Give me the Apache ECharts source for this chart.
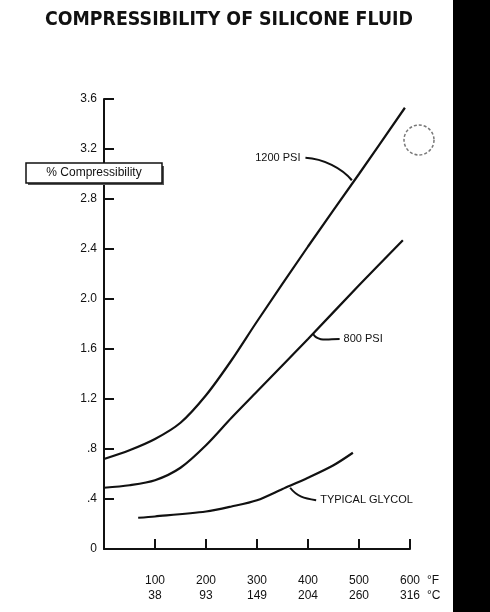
<!DOCTYPE html>
<html><head><meta charset="utf-8">
<script src="https://cdn.jsdelivr.net/npm/echarts@6/dist/echarts.min.js"></script>
<style>html,body{margin:0;padding:0;background:#fff}#c{width:490px;height:612px}</style>
</head><body><div id="c"></div>
<script>
// ---- data ----
const titleText = 'COMPRESSIBILITY OF SILICONE FLUID';
const yAxisName = '% Compressibility';
const fTicks = [0, 100, 200, 300, 400, 500, 600];
const cTicks = ['', '38', '93', '149', '204', '260', '316'];
const yTickLabels = {0:'0', 0.4:'.4', 0.8:'.8', 1.2:'1.2', 1.6:'1.6', 2:'2.0', 2.4:'2.4', 2.8:'2.8', 3.2:'3.2', 3.6:'3.6'};

const t1200 = [0, 50, 100, 150, 200, 250, 300, 400, 500, 590];
const v1200 = [0.72, 0.79, 0.88, 1.01, 1.23, 1.51, 1.82, 2.42, 3.00, 3.53];
const t800  = [0, 50, 100, 150, 200, 250, 300, 400, 500, 586];
const v800  = [0.49, 0.51, 0.55, 0.65, 0.83, 1.05, 1.26, 1.68, 2.11, 2.47];
const tGly  = [67, 100, 200, 250, 300, 350, 400, 450, 488];
const vGly  = [0.25, 0.26, 0.30, 0.34, 0.39, 0.48, 0.57, 0.67, 0.77];

const seriesNames = ['1200 PSI', '800 PSI', 'TYPICAL GLYCOL'];

const pair = (xs, ys) => xs.map((x, i) => [x, ys[i]]);
const INK = '#111';
const FONT = "'Liberation Sans', Arial, sans-serif";

const chart = echarts.init(document.getElementById('c'), null, {renderer: 'canvas'});
chart.setOption({
  backgroundColor: '#fff',
  animation: false,
  grid: {left: 104, right: 80, top: 99, bottom: 63, containLabel: false, outerBoundsMode: 'none'},
  xAxis: {
    type: 'value', min: 0, max: 600, interval: 100,
    axisLine: {lineStyle: {color: INK, width: 2}},
    axisTick: {inside: true, length: 10, lineStyle: {color: INK, width: 2}},
    splitLine: {show: false},
    axisLabel: {
      margin: 24, color: INK, fontFamily: FONT, fontSize: 12, lineHeight: 15,
      formatter: v => { const i = fTicks.indexOf(v); return i > 0 ? fTicks[i] + '\n' + cTicks[i] : ''; }
    }
  },
  yAxis: {
    type: 'value', min: 0, max: 3.6, interval: 0.4,
    axisLine: {lineStyle: {color: INK, width: 2}},
    axisTick: {inside: true, length: 10, lineStyle: {color: INK, width: 2}},
    splitLine: {show: false},
    axisLabel: {
      margin: 7, color: INK, fontFamily: FONT, fontSize: 12,
      formatter: v => { const k = Math.round(v * 10) / 10; return yTickLabels[k] !== undefined ? yTickLabels[k] : ''; }
    }
  },
  series: [
    {name: seriesNames[0], type: 'line', data: pair(t1200, v1200), smooth: 0.3, showSymbol: false,
     lineStyle: {color: INK, width: 2.2}},
    {name: seriesNames[1], type: 'line', data: pair(t800, v800), smooth: 0.3, showSymbol: false,
     lineStyle: {color: INK, width: 2.2}},
    {name: seriesNames[2], type: 'line', data: pair(tGly, vGly), smooth: 0.3, showSymbol: false,
     lineStyle: {color: INK, width: 2.2}}
  ]
});

const P = d => chart.convertToPixel({gridIndex: 0}, d);
const g = [];
// title
g.push({type: 'text', x: 229, y: 11, scaleX: 0.915, style: {text: titleText, fill: INK, align: 'center',
  font: "bold 19px 'DejaVu Sans', 'Liberation Sans', sans-serif"}, z: 10});
// y axis name box
const yb = P([0, 3.0]);
g.push({type: 'rect', shape: {x: yb[0] - 76, y: yb[1] - 8, width: 136, height: 19}, style: {fill: '#555'}, z: 9});
g.push({type: 'rect', shape: {x: yb[0] - 78, y: yb[1] - 11, width: 136, height: 20}, style: {fill: '#fff', stroke: INK, lineWidth: 1.5}, z: 10});
g.push({type: 'text', x: yb[0] - 10, y: yb[1] - 1, style: {text: yAxisName, fill: INK, font: '12px ' + FONT, align: 'center', verticalAlign: 'middle'}, z: 11});
// leaders & labels
function leader(curvePt, textPt, c1, c2, label) {
  const a = P(curvePt), b = P(textPt);
  g.push({type: 'bezierCurve', shape: {x1: a[0], y1: a[1], x2: b[0], y2: b[1], cpx1: a[0] + c1[0], cpy1: a[1] + c1[1], cpx2: b[0] + c2[0], cpy2: b[1] + c2[1]},
    style: {stroke: INK, lineWidth: 2, fill: null}, z: 5});
  g.push({type: 'text', x: b[0] + 4, y: b[1], style: {text: label, fill: INK, font: '11px ' + FONT, verticalAlign: 'middle'}, z: 5});
}
// 1200 PSI (text to the left of leader)
(function(){
  const a = P([486, 2.95]), b = P([395, 3.13]);
  g.push({type: 'bezierCurve', shape: {x1: a[0], y1: a[1], x2: b[0], y2: b[1], cpx1: a[0] - 10, cpy1: a[1] - 12, cpx2: b[0] + 18, cpy2: b[1] + 1},
    style: {stroke: INK, lineWidth: 2.2, fill: null}, z: 5});
  g.push({type: 'text', x: b[0] - 5, y: b[1], style: {text: seriesNames[0], fill: INK, font: '11px ' + FONT, align: 'right', verticalAlign: 'middle'}, z: 5});
})();
leader([410, 1.72], [462, 1.68], [5, 8], [-12, 0], seriesNames[1]);
leader([365, 0.49], [416, 0.39], [7, 9], [-12, -2], seriesNames[2]);
// unit labels
const u = P([600, 0]);
g.push({type: 'text', x: u[0] + 17, y: u[1] + 24, style: {text: '°F\n°C', fill: INK, font: '12px ' + FONT, lineHeight: 15}, z: 5});
// scan artefacts: dark edge and punch-hole ring
g.push({type: 'rect', shape: {x: 453, y: 0, width: 37, height: 612}, style: {fill: '#000'}, z: 1});
g.push({type: 'circle', shape: {cx: 419, cy: 140, r: 15}, style: {fill: null, stroke: '#777', lineWidth: 1.5, lineDash: [3, 2]}, z: 1});
chart.setOption({graphic: g});
</script>
</body></html>
